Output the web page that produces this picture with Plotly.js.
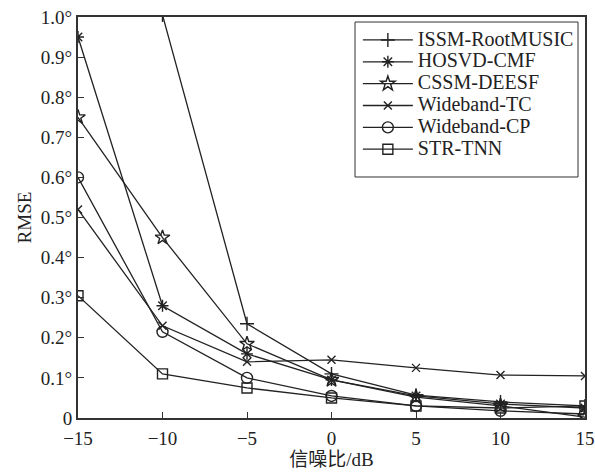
<!DOCTYPE html>
<html>
<head>
<meta charset="utf-8">
<script src="https://cdn.plot.ly/plotly-3.0.1.min.js"></script>
<style>
html,body{margin:0;padding:0;background:#fff;}
#chart{width:595px;height:473px;}
.legendtext{font-size:20px !important;}
</style>
</head>
<body>
<div id="chart"></div>
<script>
const snr = [-15, -10, -5, 0, 5, 10, 15];
const names = ["ISSM-RootMUSIC", "HOSVD-CMF", "CSSM-DEESF", "Wideband-TC", "Wideband-CP", "STR-TNN"];
const issm = [1.6, 1.005, 0.235, 0.11, 0.057, 0.04, 0.03];
const hosvd = [0.95, 0.28, 0.16, 0.095, 0.055, 0.035, 0.025];
const cssm = [0.75, 0.45, 0.185, 0.095, 0.052, 0.03, 0.002];
const wtc = [0.52, 0.23, 0.14, 0.145, 0.125, 0.107, 0.105];
const wcp = [0.6, 0.215, 0.10, 0.055, 0.03, 0.018, 0.01];
const strtnn = [0.305, 0.11, 0.075, 0.05, 0.03, 0.025, 0.03];
const yTickVals = [0, 0.1, 0.2, 0.3, 0.4, 0.5, 0.6, 0.7, 0.8, 0.9, 1.0];
const yTickText = ["0", "0.1°", "0.2°", "0.3°", "0.4°", "0.5°", "0.6°", "0.7°", "0.8°", "0.9°", "1.0°"];
const xTickVals = [-15, -10, -5, 0, 5, 10, 15];
const xTickText = ["\u221215", "\u221210", "\u22125", "0", "5", "10", "15"];

const series = [issm, hosvd, cssm, wtc, wcp, strtnn];
const symbols = ["cross-thin-open", "asterisk-open", "star-open", "x-thin-open", "circle-open", "square-open"];
const sizes = [10, 10, 11, 8, 11, 10];
const col = "#222";
const traces = series.map((s, i) => ({
  x: snr, y: s, name: names[i], type: "scatter", mode: "lines+markers",
  line: {color: col, width: 1.3},
  marker: {symbol: symbols[i], size: sizes[i], color: col, line: {color: col, width: 1.4}},
  cliponaxis: true
}));
const font = "Liberation Serif, Times New Roman, Noto Sans CJK SC, serif";
const layout = {
  width: 595, height: 473,
  margin: {l: 78, r: 10, t: 17, b: 55},
  paper_bgcolor: "#fff", plot_bgcolor: "#fff",
  font: {family: font, size: 19, color: "#222"},
  showlegend: true,
  legend: {x: 0.552, y: 0.9825, xanchor: "left", yanchor: "top", bgcolor: "rgba(0,0,0,0)",
           borderwidth: 0, font: {family: font, size: 14.5, color: "#222"},
           tracegroupgap: 0, itemwidth: 50},
  shapes: [{type: "rect", xref: "paper", yref: "paper", x0: 0.5464, x1: 0.9862, y0: 0.601, y1: 0.9875,
            line: {color: "#333", width: 1}, fillcolor: "#fff", layer: "below"}],
  xaxis: {range: [-15, 15], tickvals: xTickVals, ticktext: xTickText, ticks: "inside", ticklen: 6,
          tickcolor: "#333", showline: true, linecolor: "#333", linewidth: 2, mirror: true,
          showgrid: false, zeroline: false, ticklabelstandoff: 2,
          title: {text: "信噪比/dB", font: {family: font, size: 19}, standoff: 4}},
  yaxis: {range: [0, 1], tickvals: yTickVals, ticktext: yTickText, ticks: "inside", ticklen: 6,
          tickcolor: "#333", showline: true, linecolor: "#333", linewidth: 2, mirror: true,
          showgrid: false, zeroline: false,
          title: {text: "RMSE", font: {family: font, size: 19}, standoff: 4}}
};
Plotly.newPlot("chart", traces, layout, {displayModeBar: false, staticPlot: true});
</script>
</body>
</html>
